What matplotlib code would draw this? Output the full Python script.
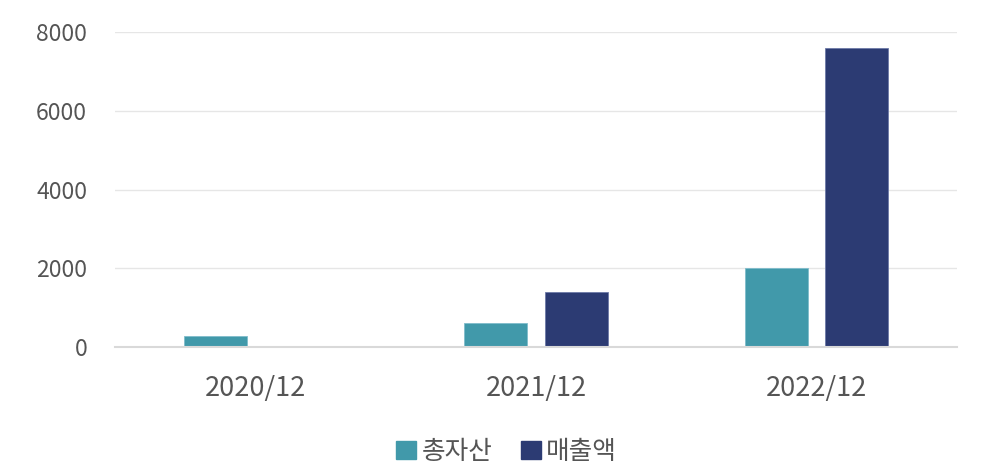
import matplotlib.pyplot as plt
import numpy as np
from matplotlib.patches import Patch

plt.rcParams['font.family'] = ['Noto Sans CJK KR', 'DejaVu Sans']

# data
categories = ['2020/12', '2021/12', '2022/12']
total_assets = [270, 600, 2000]
sales = [0, 1400, 7600]
series_names = ['총자산', '매출액']
yticks = [0, 2000, 4000, 6000, 8000]

teal = '#4199aa'
navy = '#2c3b73'
text_col = '#555555'

fig = plt.figure(figsize=(9.93, 4.70), dpi=100)
ax = fig.add_axes([0.1158, 0.2617, 0.8479, 0.6702])

x = np.arange(len(categories))
w = 0.224
off = 0.143
ax.bar(x - off, total_assets, w, color=teal, edgecolor='#7fbccb', linewidth=0.6, zorder=3)
ax.bar(x + off, sales, w, color=navy, edgecolor='#6d7aa8', linewidth=0.6, zorder=3)

ax.set_xlim(-0.5, len(categories) - 0.5)
ax.set_ylim(0, 8000)
ax.set_yticks(yticks)
ax.set_yticklabels([str(v) for v in yticks])
ax.set_xticks(x)
ax.set_xticklabels(categories)

ax.grid(axis='y', color='#e6e6e6', linewidth=1, zorder=0)
for s in ['top', 'right', 'left']:
    ax.spines[s].set_visible(False)
ax.spines['bottom'].set_color('#d9d9d9')
ax.spines['bottom'].set_linewidth(1.5)
ax.spines['bottom'].set_zorder(4)

ax.tick_params(axis='both', length=0, labelcolor=text_col)
ax.tick_params(axis='y', labelsize=16.5, pad=20)
ax.tick_params(axis='x', labelsize=19.5, pad=20)

handles = [Patch(color=teal), Patch(color=navy)]
fig.legend(handles, series_names, loc='center', bbox_to_anchor=(0.51, 0.038),
           ncol=2, frameon=False, fontsize=18.5, labelcolor=text_col,
           handlelength=0.78, handleheight=0.74, handletextpad=0.2, columnspacing=1.1)

fig.savefig('out.png', dpi=100)
